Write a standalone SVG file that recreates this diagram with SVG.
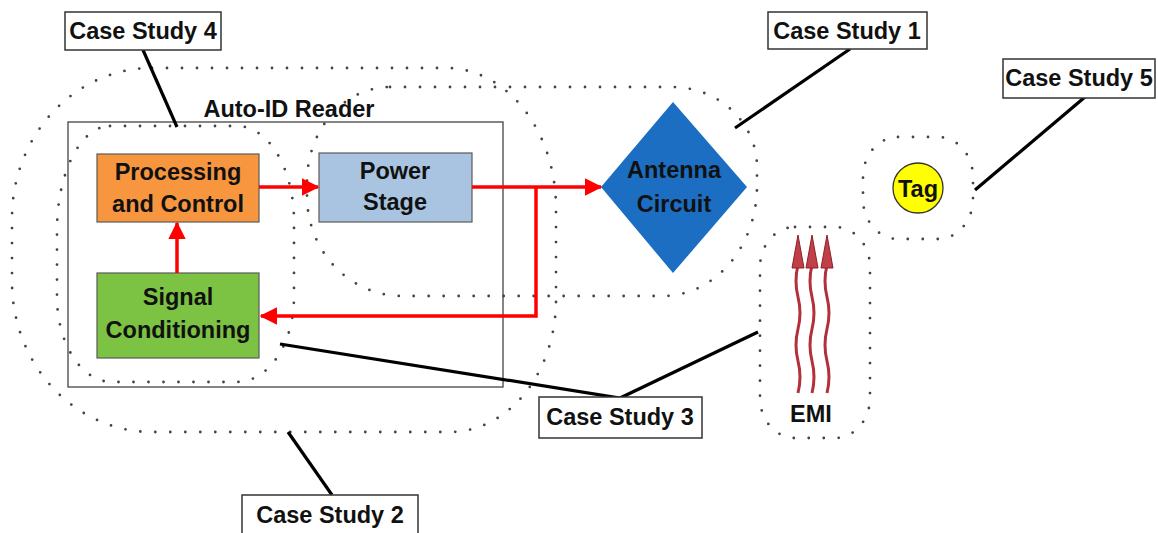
<svg xmlns="http://www.w3.org/2000/svg" width="1158" height="533" viewBox="0 0 1158 533">
  <style>
    .loop { fill: none; stroke: #444; stroke-width: 2.8; stroke-dasharray: 0 15; stroke-linecap: round; }
    .lbl { font-family: "Liberation Sans", Arial, sans-serif; font-weight: bold; font-size: 23.5px; fill: #111; text-anchor: middle; }
    .cs-box { fill: #fff; stroke: #333; stroke-width: 1.5; }
    .leader { stroke: #000; stroke-width: 3.2; fill: none; }
    .flow { stroke: #ff0000; stroke-width: 3.5; fill: none; }
    .emi { stroke: #b3303a; stroke-width: 3; fill: none; }
  </style>
  <defs>
    <marker id="redArrow" markerWidth="5" markerHeight="5" refX="4.6" refY="2.5" orient="auto" markerUnits="strokeWidth">
      <path d="M0,0 L5,2.5 L0,5 Z" fill="#ff0000"/>
    </marker>
  </defs>

  <rect width="1158" height="533" fill="#fff"/>

  <!-- dotted case-study boundaries -->
  <g id="boundaries">
    <path id="loop-cs2" class="loop" d="M 152 68 H 446 A 110 140 0 0 1 556 208 V 300 A 106 132 0 0 1 450 432 H 152 A 140 150 0 0 1 12 282 V 218 A 140 150 0 0 1 152 68 Z"/>
    <path id="loop-cs1" class="loop" d="M 390 87 H 672 A 85 80 0 0 1 757 167 V 186 A 94 110 0 0 1 663 296 H 402 A 95 100 0 0 1 307 196 V 182 A 83 95 0 0 1 390 87 Z"/>
    <path id="loop-cs4" class="loop" d="M 110 126 H 237 A 57 95 0 0 1 294 221 V 297 A 57 85 0 0 1 237 382 H 112 A 55 85 0 0 1 57 297 V 230 A 53 104 0 0 1 110 126 Z"/>
    <rect id="loop-cs5" class="loop" x="863" y="137" width="110" height="102" rx="35" ry="40"/>
    <rect id="loop-emi" class="loop" x="760" y="227" width="110" height="211" rx="35" ry="40"/>
  </g>

  <!-- reader enclosure -->
  <g id="reader">
    <rect x="68" y="122" width="435" height="265" fill="none" stroke="#444" stroke-width="1.3"/>
    <text class="lbl" x="289" y="117">Auto-ID Reader</text>
  </g>

  <g id="processing">
    <rect x="97" y="154" width="162" height="68" fill="#f7963e" stroke="#5a5a5a" stroke-width="1.2"/>
    <text class="lbl" x="178" y="180">Processing</text>
    <text class="lbl" x="178" y="212">and Control</text>
  </g>

  <g id="power">
    <rect x="319" y="153" width="153" height="69" fill="#a8c4e0" stroke="#5a5a5a" stroke-width="1.2"/>
    <text class="lbl" x="395" y="179">Power</text>
    <text class="lbl" x="395" y="210">Stage</text>
  </g>

  <g id="signal">
    <rect x="97" y="273" width="162" height="85" fill="#7cc243" stroke="#5a5a5a" stroke-width="1.2"/>
    <text class="lbl" x="178" y="305">Signal</text>
    <text class="lbl" x="178" y="338">Conditioning</text>
  </g>

  <g id="antenna">
    <polygon points="673,102 747,187 673,273 601,187" fill="#1b6ec2"/>
    <text class="lbl" x="674" y="178" fill="#0b1a2e">Antenna</text>
    <text class="lbl" x="674" y="212" fill="#0b1a2e">Circuit</text>
  </g>

  <g id="tag">
    <circle cx="918" cy="188" r="25" fill="#ffff00" stroke="#333" stroke-width="1.3"/>
    <text class="lbl" x="918" y="197">Tag</text>
  </g>

  <g id="emi">
    <path class="emi" d="M 798 393 q 4 -16 0 -32 t 0 -32 t 0 -32 t 0 -32"/>
    <path class="emi" d="M 812 393 q 4 -16 0 -32 t 0 -32 t 0 -32 t 0 -32"/>
    <path class="emi" d="M 827 393 q 4 -16 0 -32 t 0 -32 t 0 -32 t 0 -32"/>
    <polygon points="798,235 792,268 804,268" fill="#c0404a" stroke="#8e1f28" stroke-width="1"/>
    <polygon points="812,235 806,268 818,268" fill="#c0404a" stroke="#8e1f28" stroke-width="1"/>
    <polygon points="827,235 821,268 833,268" fill="#c0404a" stroke="#8e1f28" stroke-width="1"/>
    <text class="lbl" x="811" y="422">EMI</text>
  </g>

  <!-- signal flow connectors -->
  <g id="connectors">
    <line class="flow" x1="259" y1="187" x2="318" y2="187" marker-end="url(#redArrow)"/>
    <line class="flow" x1="472" y1="187" x2="601" y2="187" marker-end="url(#redArrow)"/>
    <polyline class="flow" points="536,187 536,316 261,316" marker-end="url(#redArrow)"/>
    <line class="flow" x1="177" y1="273" x2="177" y2="223" marker-end="url(#redArrow)"/>
  </g>

  <!-- case study callouts -->
  <g id="leaders">
    <line class="leader" x1="143" y1="50" x2="177" y2="127"/>
    <line class="leader" x1="850" y1="49" x2="735" y2="128"/>
    <line class="leader" x1="1085" y1="97" x2="975" y2="190"/>
    <polyline class="leader" points="280,344 620,398 758,332"/>
    <line class="leader" x1="288" y1="432" x2="332" y2="495"/>
  </g>

  <g id="cs4">
    <rect class="cs-box" x="65" y="12" width="156" height="38"/>
    <text class="lbl" x="143" y="39">Case Study 4</text>
  </g>
  <g id="cs1">
    <rect class="cs-box" x="768" y="12" width="159" height="37"/>
    <text class="lbl" x="847" y="39">Case Study 1</text>
  </g>
  <g id="cs5">
    <rect class="cs-box" x="1003" y="59" width="152" height="39"/>
    <text class="lbl" x="1079" y="86">Case Study 5</text>
  </g>
  <g id="cs3">
    <rect class="cs-box" x="539" y="397" width="163" height="41"/>
    <text class="lbl" x="620" y="425">Case Study 3</text>
  </g>
  <g id="cs2">
    <rect class="cs-box" x="242" y="495" width="176" height="40"/>
    <text class="lbl" x="330" y="523">Case Study 2</text>
  </g>
</svg>
